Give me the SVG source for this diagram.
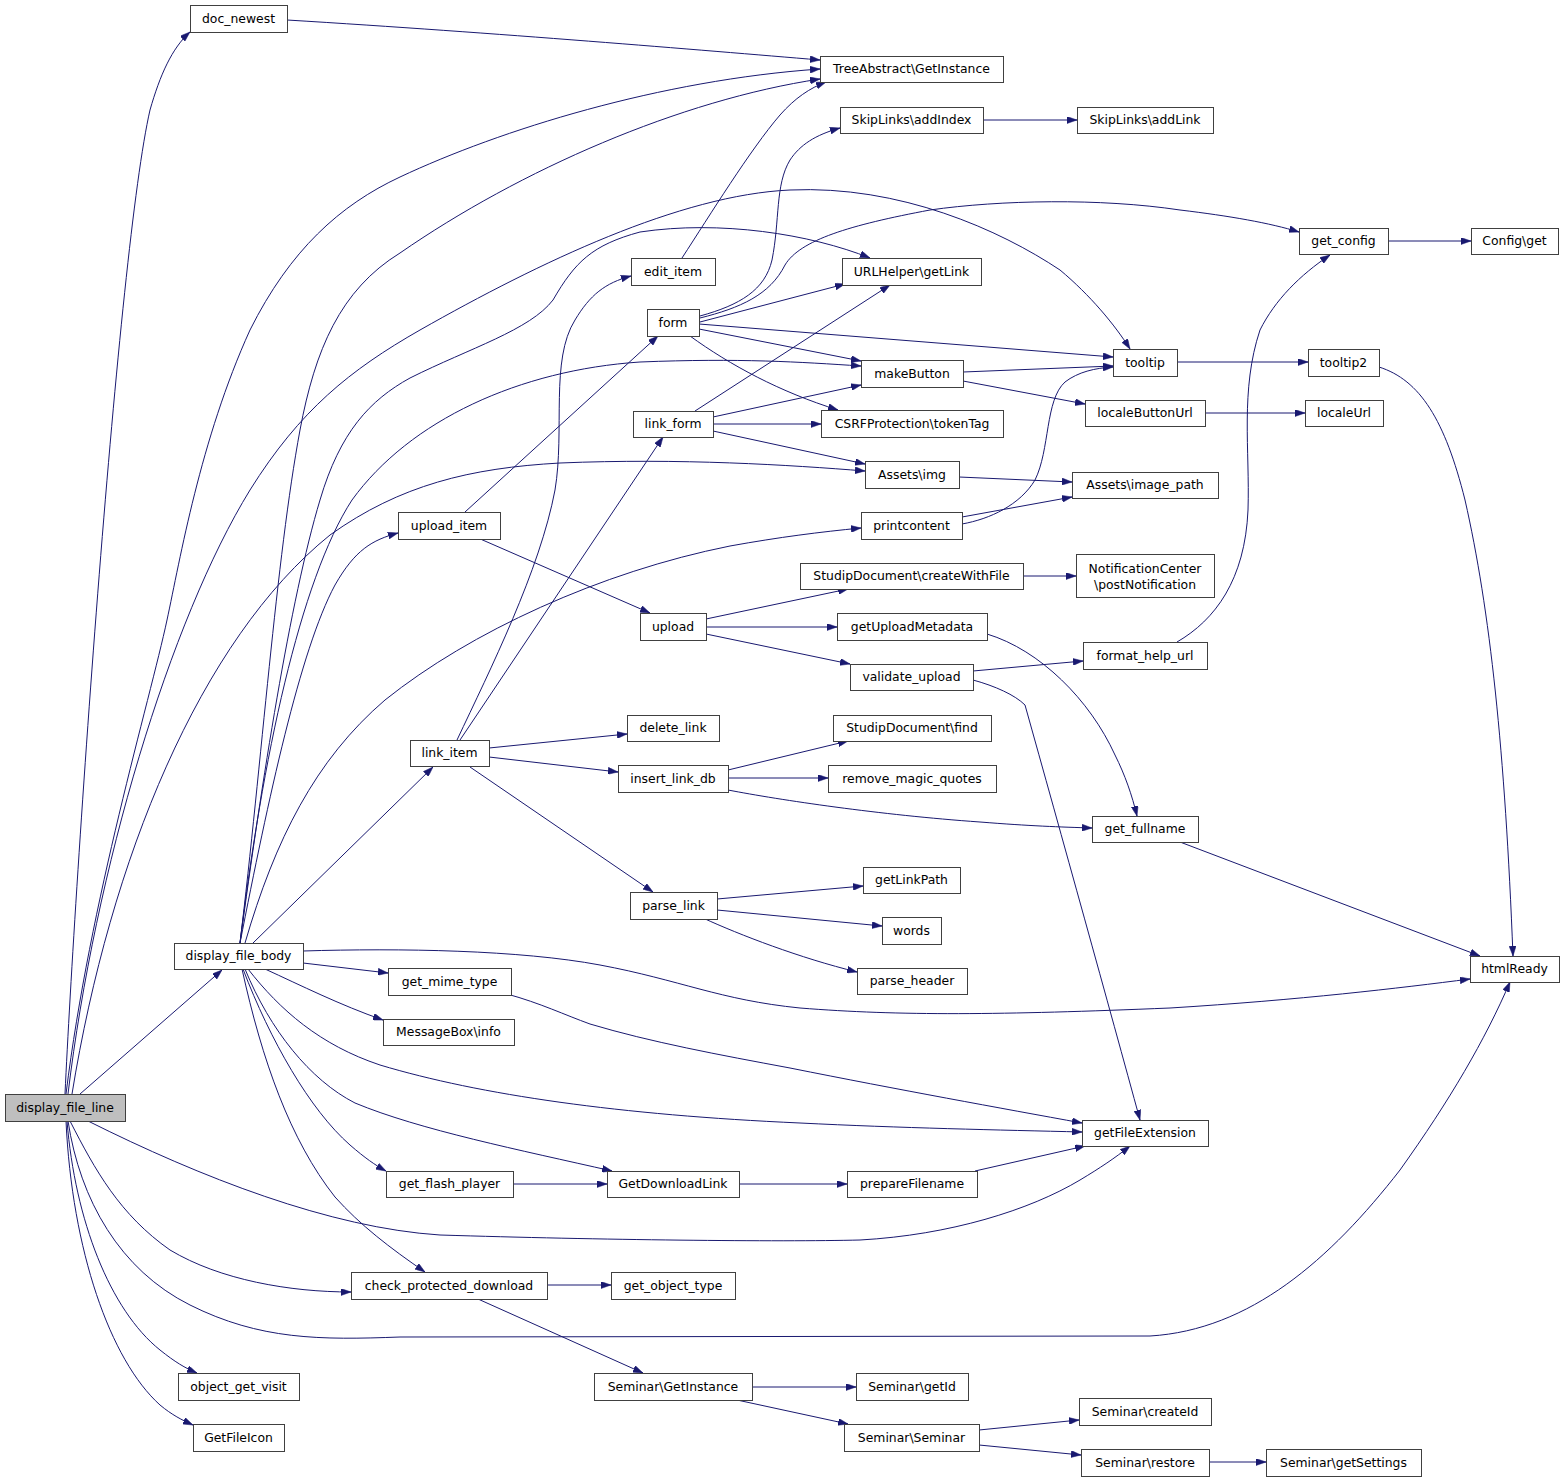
<svg xmlns="http://www.w3.org/2000/svg" width="1565" height="1481" viewBox="0 0 1565 1481">
<style>
.node rect{fill:#ffffff;stroke:#404040;stroke-width:1}
.node.root rect{fill:#bfbfbf}
.node text{font-family:"DejaVu Sans","Liberation Sans",sans-serif;font-size:12.4px;text-anchor:middle;fill:#000000}
.edges path{fill:none;stroke:#191970;stroke-width:1;marker-end:url(#arr)}
</style>
<defs>
<marker id="arr" viewBox="0 0 10 7" refX="10" refY="3.5" markerWidth="10" markerHeight="7" markerUnits="userSpaceOnUse" orient="auto">
<path d="M0,0 L10,3.5 L0,7 z" fill="#191970" stroke="#191970" stroke-width="0.5"/>
</marker>
</defs>
<rect width="1565" height="1481" fill="#ffffff"/>
<g class="edges">
<path d="M65,1094 C75,880 118,250 150,110 C160,75 172,48 190,32"/>
<path d="M66,1094 C90,900 150,700 167,620 C180,560 200,440 250,330 C290,250 340,205 400,177 C500,130 660,80 820,69"/>
<path d="M80,1094 L222,970"/>
<path d="M68,1094 C95,870 170,620 250,490 C300,410 350,370 420,330 C540,262 680,195 790,190 C900,185 1000,230 1060,270 C1090,295 1115,325 1130,349"/>
<path d="M72,1094 C110,860 200,640 330,535 C400,485 470,468 560,463 C680,458 790,465 865,471"/>
<path d="M88,1121 C200,1177 330,1228 440,1235 C600,1240 780,1242 860,1240 C950,1235 1030,1210 1080,1180 C1100,1168 1115,1158 1130,1146"/>
<path d="M70,1121 C95,1170 120,1215 170,1250 C220,1280 290,1292 351,1292"/>
<path d="M68,1121 C80,1200 120,1270 190,1305 C260,1340 320,1340 400,1337 L1150,1336 C1250,1330 1330,1260 1400,1170 C1450,1100 1485,1040 1510,982"/>
<path d="M67,1121 C75,1220 110,1310 160,1350 C175,1362 185,1368 197,1373"/>
<path d="M66,1121 C72,1250 110,1360 160,1405 C172,1415 182,1420 193,1425"/>
<path d="M287,20 C500,33 700,50 820,60"/>
<path d="M240,943 C262,760 276,560 300,430 C315,350 340,290 400,253 C520,170 680,100 820,79"/>
<path d="M240,943 C262,780 290,600 320,500 C340,432 370,400 410,378 C470,348 530,330 553,300 C575,262 592,245 640,232 C720,220 810,234 870,258"/>
<path d="M240,943 C262,760 300,580 352,500 C410,420 520,370 640,362 C740,358 800,362 861,366"/>
<path d="M240,943 C268,800 300,650 335,585 C355,550 372,540 398,533"/>
<path d="M245,943 C275,840 315,760 385,700 C470,632 600,572 730,546 C780,537 820,532 861,528"/>
<path d="M253,943 L433,767"/>
<path d="M303,951 C400,948 520,950 600,965 C680,980 720,1000 800,1008 C900,1016 1000,1015 1170,1008 C1300,1000 1400,988 1470,979"/>
<path d="M303,963 L388,973"/>
<path d="M265,969 C300,985 340,1005 383,1020"/>
<path d="M248,969 C280,1010 320,1045 380,1065 C480,1095 620,1115 800,1123 C900,1128 1000,1130 1082,1132"/>
<path d="M243,969 C270,1040 310,1110 350,1145 C365,1158 375,1165 386,1171"/>
<path d="M245,969 C270,1030 310,1080 355,1103 C420,1130 520,1150 612,1171"/>
<path d="M242,969 C262,1060 290,1140 335,1197 C360,1225 390,1248 425,1272"/>
<path d="M507,994 C540,1003 565,1015 590,1024 C650,1042 720,1055 790,1068 C900,1090 1000,1108 1082,1123"/>
<path d="M682,258 C710,215 750,150 780,115 C795,98 810,88 826,82"/>
<path d="M700,316 C740,305 765,290 772,260 C780,220 775,185 790,160 C800,145 815,135 840,128"/>
<path d="M700,318 C740,308 770,295 785,265 C800,240 850,225 930,210 C1000,200 1100,198 1180,210 C1230,216 1270,223 1299,232"/>
<path d="M700,322 L845,284"/>
<path d="M699,324 L1113,357"/>
<path d="M699,329 L861,361"/>
<path d="M690,336 C730,365 780,392 838,410"/>
<path d="M695,411 L890,285"/>
<path d="M713,417 L861,385"/>
<path d="M713,424 L821,424"/>
<path d="M713,431 L865,464"/>
<path d="M457,740 C490,670 540,570 555,490 C565,430 550,360 575,320 C590,295 605,283 631,276"/>
<path d="M460,740 L663,437"/>
<path d="M489,748 L627,734"/>
<path d="M489,757 L618,772"/>
<path d="M470,767 L653,892"/>
<path d="M465,512 L658,336"/>
<path d="M478,538 L650,613"/>
<path d="M706,619 L848,589"/>
<path d="M706,627 L837,627"/>
<path d="M706,634 L850,664"/>
<path d="M1023,576 L1076,576"/>
<path d="M987,634 C1040,650 1090,700 1115,755 C1125,775 1132,795 1137,816"/>
<path d="M973,671 L1083,661"/>
<path d="M973,680 C995,686 1015,695 1025,705 C1060,830 1110,1010 1140,1120"/>
<path d="M1177,642 C1215,620 1245,580 1248,510 C1250,450 1240,390 1260,330 C1275,300 1300,275 1330,255"/>
<path d="M1388,241 L1471,241"/>
<path d="M983,120 L1077,120"/>
<path d="M1177,362 L1308,362"/>
<path d="M1379,367 C1420,380 1445,420 1465,500 C1490,610 1505,750 1513,956"/>
<path d="M963,372 L1113,366"/>
<path d="M963,381 L1085,404"/>
<path d="M1205,413 L1305,413"/>
<path d="M959,477 L1072,482"/>
<path d="M962,517 L1072,497"/>
<path d="M962,524 C990,519 1020,505 1035,480 C1050,450 1045,400 1065,382 C1078,372 1095,368 1113,367"/>
<path d="M728,770 L848,741"/>
<path d="M728,778 L828,778"/>
<path d="M728,790 C780,800 880,815 980,822 C1030,826 1060,827 1092,828"/>
<path d="M717,899 L863,886"/>
<path d="M717,910 L882,926"/>
<path d="M703,918 C740,935 800,958 857,972"/>
<path d="M1180,842 L1480,956"/>
<path d="M739,1184 L847,1184"/>
<path d="M513,1184 L607,1184"/>
<path d="M975,1171 L1085,1146"/>
<path d="M547,1285 L611,1285"/>
<path d="M478,1299 L643,1373"/>
<path d="M752,1387 L856,1387"/>
<path d="M737,1400 L848,1424"/>
<path d="M979,1430 L1079,1420"/>
<path d="M979,1445 L1081,1455"/>
<path d="M1209,1462 L1266,1462"/>
</g>
<g id="display_file_line" class="node root"><rect x="5.5" y="1094.5" width="120" height="27"/><text x="65" y="1111.8">display_file_line</text></g>
<g id="doc_newest" class="node"><rect x="190.5" y="5.5" width="97" height="27"/><text x="238.5" y="22.8">doc_newest</text></g>
<g id="TreeAbstract_GetInstance" class="node"><rect x="820.5" y="56.5" width="183" height="26"/><text x="911.5" y="73.3">TreeAbstract\GetInstance</text></g>
<g id="SkipLinks_addIndex" class="node"><rect x="840.5" y="107.5" width="143" height="26"/><text x="911.5" y="124.3">SkipLinks\addIndex</text></g>
<g id="SkipLinks_addLink" class="node"><rect x="1077.5" y="107.5" width="136" height="26"/><text x="1145" y="124.3">SkipLinks\addLink</text></g>
<g id="get_config" class="node"><rect x="1299.5" y="228.5" width="89" height="26"/><text x="1343.5" y="245.3">get_config</text></g>
<g id="Config_get" class="node"><rect x="1471.5" y="228.5" width="87" height="26"/><text x="1514.5" y="245.3">Config\get</text></g>
<g id="edit_item" class="node"><rect x="631.5" y="258.5" width="84" height="27"/><text x="673" y="275.8">edit_item</text></g>
<g id="URLHelper_getLink" class="node"><rect x="842.5" y="258.5" width="139" height="27"/><text x="911.5" y="275.8">URLHelper\getLink</text></g>
<g id="form" class="node"><rect x="647.5" y="309.5" width="52" height="27"/><text x="673" y="326.8">form</text></g>
<g id="tooltip" class="node"><rect x="1113.5" y="349.5" width="64" height="27"/><text x="1145" y="366.8">tooltip</text></g>
<g id="tooltip2" class="node"><rect x="1308.5" y="349.5" width="71" height="27"/><text x="1343.5" y="366.8">tooltip2</text></g>
<g id="makeButton" class="node"><rect x="861.5" y="360.5" width="102" height="27"/><text x="912" y="377.8">makeButton</text></g>
<g id="link_form" class="node"><rect x="633.5" y="411.5" width="80" height="26"/><text x="673" y="428.3">link_form</text></g>
<g id="CSRFProtection_tokenTag" class="node"><rect x="821.5" y="410.5" width="182" height="27"/><text x="912" y="427.8">CSRFProtection\tokenTag</text></g>
<g id="localeButtonUrl" class="node"><rect x="1085.5" y="400.5" width="120" height="26"/><text x="1145" y="417.3">localeButtonUrl</text></g>
<g id="localeUrl" class="node"><rect x="1305.5" y="400.5" width="78" height="26"/><text x="1344" y="417.3">localeUrl</text></g>
<g id="Assets_img" class="node"><rect x="865.5" y="461.5" width="94" height="27"/><text x="912" y="478.8">Assets\img</text></g>
<g id="Assets_image_path" class="node"><rect x="1072.5" y="472.5" width="146" height="26"/><text x="1145" y="489.3">Assets\image_path</text></g>
<g id="upload_item" class="node"><rect x="398.5" y="512.5" width="102" height="27"/><text x="449" y="529.8">upload_item</text></g>
<g id="printcontent" class="node"><rect x="861.5" y="512.5" width="101" height="27"/><text x="911.5" y="529.8">printcontent</text></g>
<g id="StudipDocument_createWithFile" class="node"><rect x="800.5" y="563.5" width="223" height="26"/><text x="911.5" y="580.3">StudipDocument\createWithFile</text></g>
<g id="NotificationCenter_postNotification" class="node"><rect x="1076.5" y="554.5" width="138" height="43"/><text x="1145" y="572.5">NotificationCenter</text><text x="1145" y="588.5">\postNotification</text></g>
<g id="upload" class="node"><rect x="640.5" y="613.5" width="66" height="27"/><text x="673" y="630.8">upload</text></g>
<g id="getUploadMetadata" class="node"><rect x="837.5" y="613.5" width="150" height="27"/><text x="912" y="630.8">getUploadMetadata</text></g>
<g id="format_help_url" class="node"><rect x="1083.5" y="642.5" width="124" height="27"/><text x="1145" y="659.8">format_help_url</text></g>
<g id="validate_upload" class="node"><rect x="850.5" y="664.5" width="123" height="26"/><text x="911.5" y="681.3">validate_upload</text></g>
<g id="delete_link" class="node"><rect x="627.5" y="715.5" width="92" height="26"/><text x="673" y="732.3">delete_link</text></g>
<g id="StudipDocument_find" class="node"><rect x="833.5" y="715.5" width="158" height="26"/><text x="912" y="732.3">StudipDocument\find</text></g>
<g id="link_item" class="node"><rect x="410.5" y="740.5" width="79" height="26"/><text x="449.5" y="757.3">link_item</text></g>
<g id="insert_link_db" class="node"><rect x="618.5" y="765.5" width="110" height="27"/><text x="673" y="782.8">insert_link_db</text></g>
<g id="remove_magic_quotes" class="node"><rect x="828.5" y="765.5" width="168" height="27"/><text x="912" y="782.8">remove_magic_quotes</text></g>
<g id="get_fullname" class="node"><rect x="1092.5" y="816.5" width="106" height="26"/><text x="1145" y="833.3">get_fullname</text></g>
<g id="getLinkPath" class="node"><rect x="863.5" y="867.5" width="97" height="26"/><text x="911.5" y="884.3">getLinkPath</text></g>
<g id="parse_link" class="node"><rect x="630.5" y="892.5" width="87" height="27"/><text x="673.5" y="909.8">parse_link</text></g>
<g id="words" class="node"><rect x="882.5" y="917.5" width="59" height="27"/><text x="911.5" y="934.8">words</text></g>
<g id="display_file_body" class="node"><rect x="174.5" y="943.5" width="129" height="26"/><text x="238.5" y="960.3">display_file_body</text></g>
<g id="htmlReady" class="node"><rect x="1470.5" y="956.5" width="89" height="26"/><text x="1514.5" y="973.3">htmlReady</text></g>
<g id="get_mime_type" class="node"><rect x="388.5" y="968.5" width="123" height="27"/><text x="449.5" y="985.8">get_mime_type</text></g>
<g id="parse_header" class="node"><rect x="857.5" y="968.5" width="110" height="26"/><text x="912" y="985.3">parse_header</text></g>
<g id="MessageBox_info" class="node"><rect x="383.5" y="1019.5" width="131" height="26"/><text x="448.5" y="1036.3">MessageBox\info</text></g>
<g id="getFileExtension" class="node"><rect x="1082.5" y="1120.5" width="126" height="26"/><text x="1145" y="1137.3">getFileExtension</text></g>
<g id="get_flash_player" class="node"><rect x="386.5" y="1171.5" width="127" height="26"/><text x="449.5" y="1188.3">get_flash_player</text></g>
<g id="GetDownloadLink" class="node"><rect x="607.5" y="1171.5" width="132" height="26"/><text x="673" y="1188.3">GetDownloadLink</text></g>
<g id="prepareFilename" class="node"><rect x="847.5" y="1171.5" width="130" height="26"/><text x="912" y="1188.3">prepareFilename</text></g>
<g id="check_protected_download" class="node"><rect x="351.5" y="1272.5" width="196" height="27"/><text x="449" y="1289.8">check_protected_download</text></g>
<g id="get_object_type" class="node"><rect x="611.5" y="1272.5" width="124" height="27"/><text x="673" y="1289.8">get_object_type</text></g>
<g id="object_get_visit" class="node"><rect x="178.5" y="1373.5" width="121" height="27"/><text x="238.5" y="1390.8">object_get_visit</text></g>
<g id="Seminar_GetInstance" class="node"><rect x="594.5" y="1373.5" width="158" height="27"/><text x="673" y="1390.8">Seminar\GetInstance</text></g>
<g id="Seminar_getId" class="node"><rect x="856.5" y="1373.5" width="112" height="27"/><text x="912" y="1390.8">Seminar\getId</text></g>
<g id="Seminar_createId" class="node"><rect x="1079.5" y="1398.5" width="132" height="27"/><text x="1145" y="1415.8">Seminar\createId</text></g>
<g id="GetFileIcon" class="node"><rect x="193.5" y="1424.5" width="91" height="27"/><text x="238.5" y="1441.8">GetFileIcon</text></g>
<g id="Seminar_Seminar" class="node"><rect x="844.5" y="1424.5" width="135" height="27"/><text x="911.5" y="1441.8">Seminar\Seminar</text></g>
<g id="Seminar_restore" class="node"><rect x="1081.5" y="1449.5" width="128" height="27"/><text x="1145" y="1466.8">Seminar\restore</text></g>
<g id="Seminar_getSettings" class="node"><rect x="1266.5" y="1449.5" width="155" height="27"/><text x="1343.5" y="1466.8">Seminar\getSettings</text></g>
</svg>
